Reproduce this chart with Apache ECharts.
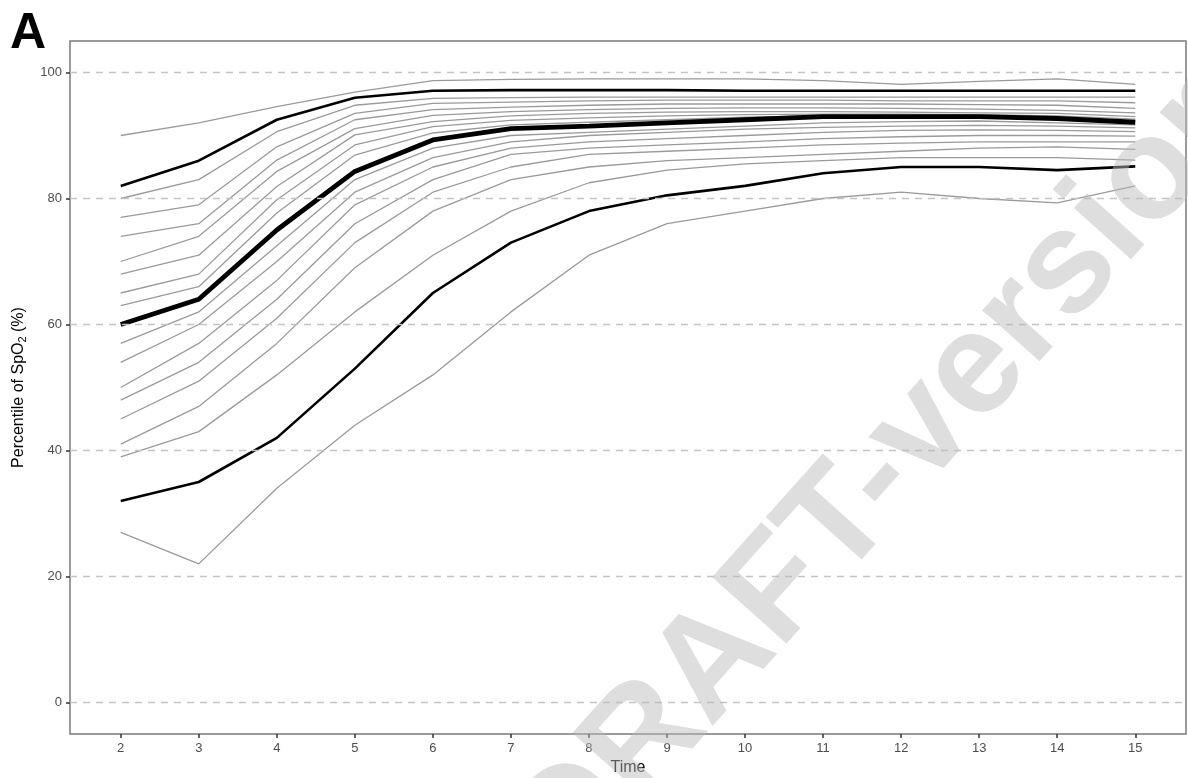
<!DOCTYPE html>
<html>
<head>
<meta charset="utf-8">
<script src="https://cdn.jsdelivr.net/npm/echarts@6/dist/echarts.min.js"></script>
<style>html,body{margin:0;padding:0;background:#fff}#c{width:1188px;height:778px}</style>
</head>
<body>
<div id="c"></div>
<script>
const times = [2,3,4,5,6,7,8,9,10,11,12,13,14,15];
const yTicks = [0,20,40,60,80,100];
const p95 = [90, 92, 94.6, 96.9, 98.7, 98.9, 99, 99, 99, 98.7, 98.1, 98.6, 99, 98.1];
const p90 = [82, 86, 92.5, 96, 97.1, 97.2, 97.2, 97.2, 97.1, 97.1, 97.1, 97.1, 97.1, 97.1];
const p85 = [80, 83, 90.6, 94.8, 95.9, 96.0, 96.1, 96.1, 96.1, 96.1, 96.1, 96.1, 96.1, 96.1];
const p80 = [77, 79, 88.2, 93.5, 95.1, 95.3, 95.5, 95.6, 95.6, 95.6, 95.5, 95.5, 95.5, 95.2];
const p75 = [74, 76, 86.1, 92.5, 94.1, 94.5, 94.8, 95, 95, 95, 95, 94.9, 94.8, 94.3];
const p70 = [70, 74, 84.3, 91.1, 93.2, 93.8, 94.1, 94.3, 94.4, 94.4, 94.3, 94.2, 94.0, 93.6];
const p65 = [68, 71, 81.9, 90.1, 92.2, 93.1, 93.5, 93.7, 93.8, 93.8, 93.7, 93.6, 93.5, 93.0];
const p60 = [65, 68, 79.8, 88.5, 91.4, 92.4, 92.8, 93.1, 93.3, 93.4, 93.4, 93.3, 93.1, 92.6];
const p55 = [63, 66, 77.7, 86.9, 90.4, 91.7, 92.1, 92.5, 92.9, 93.1, 93.1, 93.1, 92.9, 92.3];
const p50 = [60, 64, 75, 84.3, 89.3, 91.1, 91.5, 92, 92.5, 93, 93, 93, 92.7, 92.1];
const p45 = [57, 62, 72.5, 83, 88, 90, 90.5, 91, 91.5, 92, 92.2, 92.3, 92, 91.7];
const p40 = [54, 60, 70, 81, 86.5, 89, 90, 90.5, 91, 91.3, 91.5, 91.6, 91.5, 91.2];
const p35 = [50, 57, 67, 79, 85, 88, 89, 89.5, 90, 90.5, 90.8, 90.9, 90.8, 90.6];
const p30 = [48, 54, 64, 76, 83, 87, 88, 88.5, 89, 89.5, 89.8, 90, 90, 89.9];
const p25 = [45, 51, 61, 73, 81, 85, 87, 87.5, 88, 88.5, 88.8, 89, 89, 89.0];
const p20 = [41, 47, 57, 69, 78, 83, 85, 86, 86.5, 87, 87.5, 88, 88.2, 87.8];
const p15 = [39, 43, 52, 62, 71, 78, 82.5, 84.5, 85.5, 86, 86.5, 86.5, 86.5, 86.1];
const p10 = [32, 35, 42, 53, 65, 73, 78, 80.5, 82, 84, 85, 85, 84.5, 85.1];
const p5  = [27, 22, 34, 44, 52, 62, 71, 76, 78, 80, 81, 80, 79.3, 82];

const lines = [
  ['P5', p5, 'gray'], ['P10', p10, 'black'], ['P15', p15, 'gray'], ['P20', p20, 'gray'],
  ['P25', p25, 'gray'], ['P30', p30, 'gray'], ['P35', p35, 'gray'], ['P40', p40, 'gray'],
  ['P45', p45, 'gray'], ['P50', p50, 'median'], ['P55', p55, 'gray'], ['P60', p60, 'gray'],
  ['P65', p65, 'gray'], ['P70', p70, 'gray'], ['P75', p75, 'gray'], ['P80', p80, 'gray'],
  ['P85', p85, 'gray'], ['P90', p90, 'black'], ['P95', p95, 'gray']
];
const styleOf = {
  gray: {color: '#9a9a9a', width: 1.3, z: 2},
  black: {color: '#000', width: 2.6, z: 3},
  median: {color: '#000', width: 4.8, z: 4}
};

const series = lines.map(([name, vals, kind]) => ({
  name, type: 'line', symbol: 'none', silent: true, animation: false,
  z: styleOf[kind].z,
  lineStyle: {color: styleOf[kind].color, width: styleOf[kind].width},
  data: times.map((t, i) => [t, vals[i]])
}));
series.unshift({
  type: 'line', data: [], silent: true, z: 1,
  markLine: {
    silent: true, symbol: 'none', animation: false,
    label: {show: false},
    lineStyle: {type: [7, 6], color: '#c4c4c4', width: 1.4},
    data: yTicks.map(v => ({yAxis: v}))
  }
});

const chart = echarts.init(document.getElementById('c'), null, {renderer: 'canvas'});
chart.setOption({
  animation: false,
  backgroundColor: '#fff',
  grid: {left: 70, right: 2, top: 41, bottom: 44, outerBoundsMode: 'none', containLabel: false,
         show: true, borderColor: '#7a7a7a', borderWidth: 1.5, backgroundColor: 'transparent'},
  xAxis: {
    type: 'value', min: 1.35, max: 15.65,
    name: 'Time', nameLocation: 'middle', nameGap: 26,
    nameTextStyle: {fontFamily: 'Liberation Sans', fontSize: 16, color: '#000'},
    axisLine: {show: false, onZero: false},
    axisTick: {show: true, length: 4, lineStyle: {color: '#333', width: 1.5}, customValues: times},
    axisLabel: {customValues: times, fontFamily: 'Liberation Sans', fontSize: 13, color: '#4d4d4d', margin: 8},
    splitLine: {show: false}
  },
  yAxis: {
    type: 'value', min: -5, max: 105,
    name: 'Percentile of SpO{sub|2} (%)', nameLocation: 'middle', nameGap: 42, nameRotate: 90,
    nameTextStyle: {fontFamily: 'Liberation Sans', fontSize: 16, color: '#000',
      rich: {sub: {fontSize: 11, verticalAlign: 'bottom', padding: [8, 0, 0, 0], fontFamily: 'Liberation Sans', color: '#000'}}},
    axisLine: {show: false, onZero: false},
    axisTick: {show: true, length: 4, lineStyle: {color: '#333', width: 1.5}, customValues: yTicks},
    axisLabel: {customValues: yTicks, fontFamily: 'Liberation Sans', fontSize: 13, color: '#4d4d4d', margin: 8},
    splitLine: {show: false}
  },
  graphic: [
    {type: 'text', left: 10, top: 9, z: 100,
     style: {text: 'A', font: 'bold 50px "Liberation Sans", Arial, sans-serif', fill: '#000'}},
    {type: 'text', x: 890, y: 468, rotation: 0.84, z: 100, silent: true,
     style: {text: 'DRAFT-version', font: 'bold 145px "Liberation Sans", Arial, sans-serif',
             fill: 'rgba(187,187,187,0.48)', align: 'center', verticalAlign: 'middle'}}
  ],
  series
});
</script>
</body>
</html>
